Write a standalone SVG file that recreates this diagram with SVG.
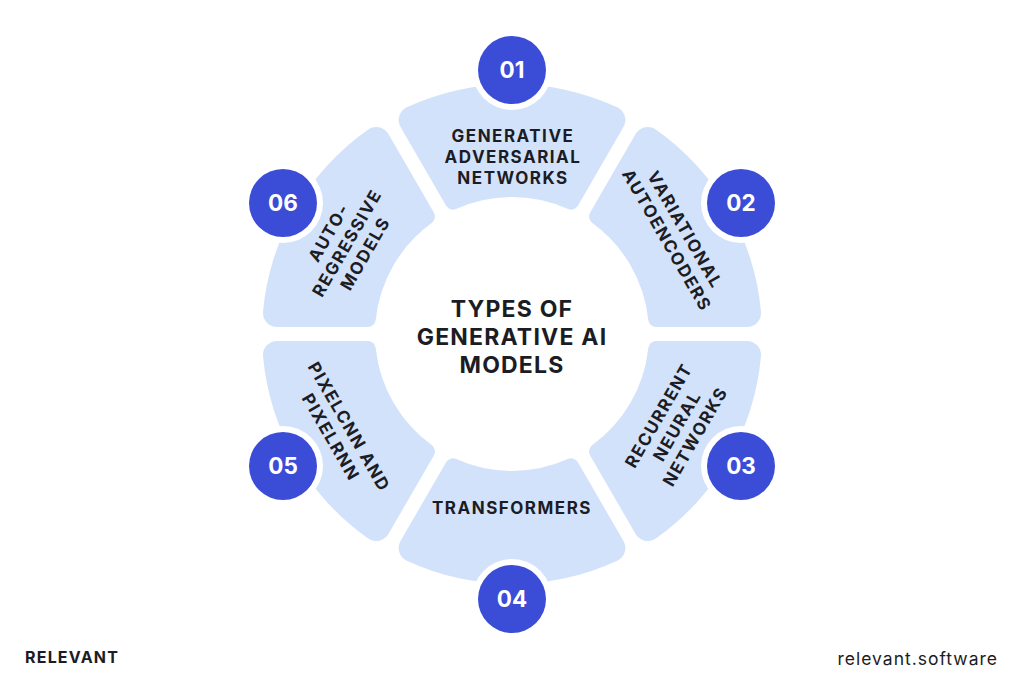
<svg xmlns="http://www.w3.org/2000/svg" xmlns:xlink="http://www.w3.org/1999/xlink" width="1024" height="683" viewBox="0 0 1024 683">
  <style>
    .seg { fill: #d3e2fb; }
    .ring { fill: #ffffff; }
    .dot { fill: #3b4cd7; }
    .num { font-family: Inter, "Liberation Sans", sans-serif; font-weight: 700; font-size: 22.5px; fill: #ffffff; text-anchor: middle; }
    .lbl { font-family: Inter, "Liberation Sans", sans-serif; font-weight: 700; font-size: 17px; letter-spacing: 1.5px; fill: #1c1c24; text-anchor: middle; }
    .title { font-family: Inter, "Liberation Sans", sans-serif; font-weight: 700; font-size: 23px; letter-spacing: 1.2px; fill: #1c1c24; text-anchor: middle; }
    .brand { font-family: Inter, "Liberation Sans", sans-serif; font-weight: 700; font-size: 16px; letter-spacing: 1.2px; fill: #1c1c24; }
    .site { font-family: Inter, "Liberation Sans", sans-serif; font-weight: 400; font-size: 17.5px; letter-spacing: 1px; fill: #1c1c24; text-anchor: end; }
  </style>
  <defs>
    <path id="segShape" d="M -105.23,-226.76 A 250 250 0 0 1 105.23,-226.76 A 14 14 0 0 1 111.47,-207.06 L 66.05,-128.39 A 8 8 0 0 1 55.86,-125.08 A 137 137 0 0 0 -55.86,-125.08 A 8 8 0 0 1 -66.05,-128.39 L -111.47,-207.06 A 14 14 0 0 1 -105.23,-226.76 Z"/>
  </defs>
  <rect width="1024" height="683" fill="#ffffff"/>

  <g id="connectors"></g>

  <g id="node-01">
    <use xlink:href="#segShape" class="seg" transform="translate(512,334)"/>
    <text class="lbl" x="513" y="142">GENERATIVE</text>
    <text class="lbl" x="513" y="163">ADVERSARIAL</text>
    <text class="lbl" x="513" y="184">NETWORKS</text>
    <circle class="ring" cx="512" cy="70" r="40"/>
    <circle class="dot" cx="512" cy="70" r="34"/>
    <text class="num" x="512" y="78">01</text>
  </g>

  <g id="node-02">
    <use xlink:href="#segShape" class="seg" transform="translate(512,334) rotate(60)"/>
    <g transform="translate(676,235) rotate(60)">
      <text class="lbl" x="0" y="-4.5">VARIATIONAL</text>
      <text class="lbl" x="0" y="16.5">AUTOENCODERS</text>
    </g>
    <circle class="ring" cx="741" cy="203" r="40"/>
    <circle class="dot" cx="741" cy="203" r="34"/>
    <text class="num" x="741" y="211">02</text>
  </g>

  <g id="node-03">
    <use xlink:href="#segShape" class="seg" transform="translate(512,334) rotate(120)"/>
    <g transform="translate(677,426) rotate(-60)">
      <text class="lbl" x="0" y="-15">RECURRENT</text>
      <text class="lbl" x="0" y="6">NEURAL</text>
      <text class="lbl" x="0" y="27">NETWORKS</text>
    </g>
    <circle class="ring" cx="741" cy="466" r="40"/>
    <circle class="dot" cx="741" cy="466" r="34"/>
    <text class="num" x="741" y="474">03</text>
  </g>

  <g id="node-04">
    <use xlink:href="#segShape" class="seg" transform="translate(512,334) rotate(180)"/>
    <text class="lbl" x="512" y="514">TRANSFORMERS</text>
    <circle class="ring" cx="512" cy="599" r="40"/>
    <circle class="dot" cx="512" cy="599" r="34"/>
    <text class="num" x="512" y="607">04</text>
  </g>

  <g id="node-05">
    <use xlink:href="#segShape" class="seg" transform="translate(512,334) rotate(240)"/>
    <g transform="translate(340,432) rotate(60)">
      <text class="lbl" x="0" y="-4.5">PIXELCNN AND</text>
      <text class="lbl" x="0" y="16.5">PIXELRNN</text>
    </g>
    <circle class="ring" cx="283" cy="466" r="40"/>
    <circle class="dot" cx="283" cy="466" r="34"/>
    <text class="num" x="283" y="474">05</text>
  </g>

  <g id="node-06">
    <use xlink:href="#segShape" class="seg" transform="translate(512,334) rotate(300)"/>
    <g transform="translate(347,243) rotate(-60)">
      <text class="lbl" x="0" y="-15">AUTO-</text>
      <text class="lbl" x="0" y="6">REGRESSIVE</text>
      <text class="lbl" x="0" y="27">MODELS</text>
    </g>
    <circle class="ring" cx="283" cy="203" r="40"/>
    <circle class="dot" cx="283" cy="203" r="34"/>
    <text class="num" x="283" y="211">06</text>
  </g>

  <g id="center-title">
    <text class="title" x="512" y="317">TYPES OF</text>
    <text class="title" x="512" y="345">GENERATIVE AI</text>
    <text class="title" x="512" y="373">MODELS</text>
  </g>

  <g id="footer">
    <text class="brand" x="25" y="663">RELEVANT</text>
    <text class="site" x="998" y="665">relevant.software</text>
  </g>
</svg>
